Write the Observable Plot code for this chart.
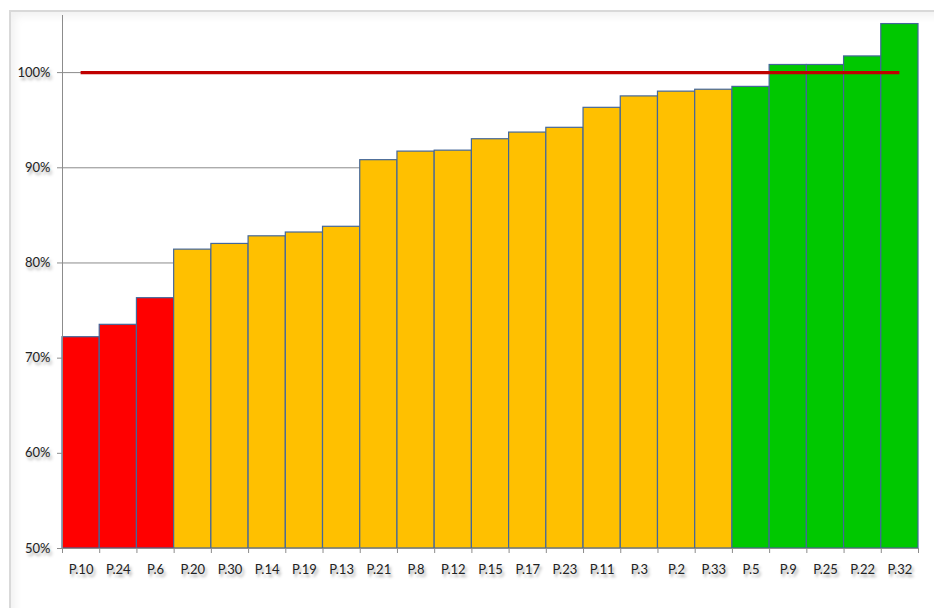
<!DOCTYPE html>
<html>
<head>
<meta charset="utf-8">
<script src="https://cdn.jsdelivr.net/npm/d3@7"></script>
<script src="https://cdn.jsdelivr.net/npm/@observablehq/plot@0.6"></script>
<style>
  html, body { margin: 0; padding: 0; background: #fff; }
  body { width: 934px; height: 608px; position: relative; overflow: hidden; }
  #frame { position: absolute; left: 9px; top: 10px; width: 1000px; height: 700px;
    border-left: 2px solid #d9d9d9; border-top: 2px solid #d9d9d9;
    box-shadow: inset 4px 4px 8px rgba(0,0,0,0.06); }
  #chart { position: absolute; left: 0; top: 0; }
  #chart text { text-shadow: 2px 3px 3px rgba(0,0,0,0.35); }
</style>
</head>
<body>
<div id="frame"></div>
<div id="chart"></div>
<script>
const categories = ["P.10","P.24","P.6","P.20","P.30","P.14","P.19","P.13","P.21","P.8","P.12","P.15","P.17","P.23","P.11","P.3","P.2","P.33","P.5","P.9","P.25","P.22","P.32"];
const values = [72.2,73.5,76.3,81.4,82.0,82.8,83.2,83.8,90.8,91.7,91.8,93.0,93.7,94.2,96.3,97.5,98.0,98.2,98.5,100.8,100.8,101.7,105.1];
const groups = ["low","low","low","mid","mid","mid","mid","mid","mid","mid","mid","mid","mid","mid","mid","mid","mid","mid","high","high","high","high","high"];
const yTicks = [50,60,70,80,90,100];
const target = 100;

const data = categories.map((c, i) => ({cat: c, i, value: values[i], group: groups[i]}));
const n = categories.length;

const chart = Plot.plot({
  width: 934,
  height: 608,
  marginLeft: 62,
  marginRight: 16,
  marginTop: 15,
  marginBottom: 60,
  style: {fontFamily: "Lato, 'Open Sans', sans-serif", fontSize: "13px", color: "#222", background: "transparent"},
  x: {type: "linear", domain: [0, n]},
  y: {domain: [50, 106]},
  color: {domain: ["low","mid","high"], range: ["#ff0000","#ffc000","#00c800"]},
  marks: [
    Plot.gridY(yTicks.slice(1), {stroke: "#8c8c8c", strokeOpacity: 1}),
    Plot.rectY(data, {x1: d => d.i, x2: d => d.i + 1, y1: 50, y2: "value", fill: "group", stroke: "#44679a", strokeWidth: 1.2}),
    Plot.ruleY([target], {x1: 0.5, x2: n - 0.5, stroke: "#c00000", strokeWidth: 3.2}),
    Plot.axisY({ticks: yTicks, tickFormat: d => d + "%", tickSize: 5, tickPadding: 7, stroke: "#8c8c8c", label: null, fontSize: 13}),
    Plot.ruleX([0], {y1: 50, y2: 106, stroke: "#8c8c8c"}),
    Plot.ruleY([50], {stroke: "#8c8c8c"}),
    Plot.axisX({ticks: d3.range(0, n + 1), tickFormat: () => "", tickSize: 5, stroke: "#8c8c8c", label: null}),
    Plot.axisX({ticks: d3.range(0, n).map(i => i + 0.5), tickFormat: d => categories[Math.floor(d)], tickSize: 0, tickPadding: 16, label: null, fontSize: 13})
  ]
});
document.getElementById("chart").appendChild(chart);
</script>
</body>
</html>
